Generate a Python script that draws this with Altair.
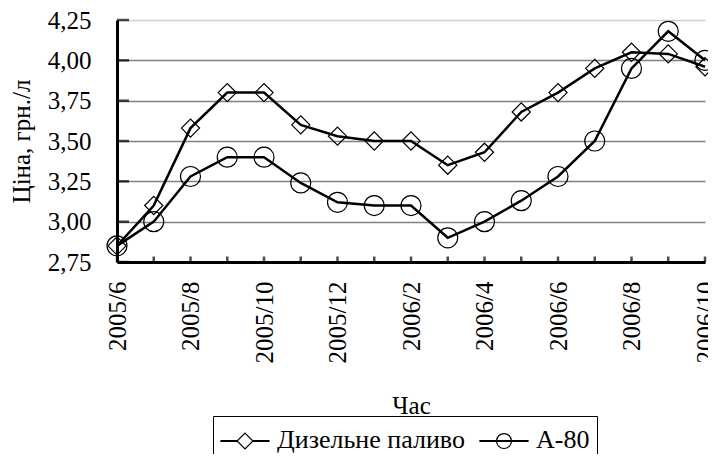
import altair as alt
import pandas as pd

months = ["2005/6", "2005/7", "2005/8", "2005/9", "2005/10", "2005/11", "2005/12",
          "2006/1", "2006/2", "2006/3", "2006/4", "2006/5", "2006/6", "2006/7",
          "2006/8", "2006/9", "2006/10"]
diesel = [2.85, 3.10, 3.58, 3.80, 3.80, 3.60, 3.53, 3.50, 3.50, 3.35, 3.43, 3.68,
          3.80, 3.95, 4.05, 4.04, 3.96]
a80 = [2.85, 3.00, 3.28, 3.40, 3.40, 3.24, 3.12, 3.10, 3.10, 2.90, 3.00, 3.13,
       3.28, 3.50, 3.95, 4.18, 4.00]
series_names = ["Дизельне паливо", "А-80"]
y_ticks = [2.75, 3.00, 3.25, 3.50, 3.75, 4.00, 4.25]
x_labels = ["2005/6", "2005/8", "2005/10", "2005/12", "2006/2", "2006/4",
            "2006/6", "2006/8", "2006/10"]

FONT = "Liberation Serif"
FS = 25
W, H = 588, 242
PL = 109

rows = []
for m, d, a in zip(months, diesel, a80):
    rows.append({"month": m, "series": series_names[0], "leg": series_names[0], "value": d})
    rows.append({"month": m, "series": series_names[1], "leg": series_names[1], "value": a})
df = pd.DataFrame(rows)
df_months = pd.DataFrame({"month": months})
df_yt = pd.DataFrame({"value": y_ticks})

label_arr = "[" + ",".join("'" + s + "'" for s in x_labels) + "]"

xscale = alt.Scale(type="point", padding=0, domain=months)
yscale = alt.Scale(domain=[2.75, 4.25], nice=False, zero=False)

x_enc = alt.X("month:O", sort=months, scale=xscale,
              axis=alt.Axis(title="Час", labelAngle=270, labelAlign="right",
                            labelBaseline="middle", labelPadding=19,
                            labelExpr="indexof(" + label_arr + ", datum.value) >= 0 ? datum.value : ''",
                            labelFont=FONT, labelFontSize=FS, labelColor="black",
                            ticks=False, tickSize=0, domainColor="black", domainWidth=3,
                            grid=False, titleFont=FONT, titleFontSize=FS,
                            titleFontWeight="normal", titleColor="black",
                            titleX=W / 2, titleY=151, titleAlign="center",
                            titleBaseline="alphabetic", labelOverlap=False))
y_enc = alt.Y("value:Q", scale=yscale,
              axis=alt.Axis(title="Ціна, грн./л", values=y_ticks,
                            labelExpr="replace(format(datum.value, '.2f'), '.', ',')",
                            labelFont=FONT, labelFontSize=FS, labelColor="black",
                            labelPadding=26, ticks=False, tickSize=0,
                            domainColor="black", domainWidth=3,
                            grid=True, gridWidth=1.5,
                            gridColor={"condition": {"test": "datum.value == 4.25", "value": "#d0d0d0"},
                                       "value": "#808080"},
                            titleFont=FONT, titleFontSize=FS, titleFontWeight="normal",
                            titleColor="black", titleAngle=270, titleX=-(8 + PL) + 29, titleY=H / 2,
                            titleAlign="center", titleBaseline="alphabetic"))

lines = alt.Chart(df).mark_line(color="black", strokeWidth=2.5, interpolate="linear").encode(
    x=x_enc, y=y_enc, detail="series:N")

points = alt.Chart(df).mark_point(filled=False, color="black", strokeWidth=1.2, opacity=1).encode(
    x=x_enc, y=y_enc,
    shape=alt.Shape("series:N", scale=alt.Scale(domain=series_names, range=["diamond", "circle"]), legend=None),
    size=alt.Size("series:N", scale=alt.Scale(domain=series_names, range=[330, 400]), legend=None))

dy = -0.29
def yy(v):
    return f"{v + dy:.3f}"

path_d = (f"M-1,{yy(-0.02)}H-0.33V{yy(0.02)}H-1Z M0.33,{yy(-0.02)}H1V{yy(0.02)}H0.33Z "
          f"M0,{yy(-0.33)}L0.33,{yy(0)}L0,{yy(0.33)}L-0.33,{yy(0)}Z")
path_c = (f"M-1,{yy(-0.02)}H1V{yy(0.02)}H-1Z "
          f"M0.31,{yy(0)}A0.31,0.31,0,1,1,-0.31,{yy(0)}A0.31,0.31,0,1,1,0.31,{yy(0)}Z")

legend_layer = alt.Chart(df).mark_point(filled=False, color="black").encode(
    x=x_enc, y=y_enc,
    opacity=alt.value(0),
    shape=alt.Shape("leg:N", scale=alt.Scale(domain=series_names, range=[path_d, path_c]),
                    legend=alt.Legend(title=None, orient="none", legendX=213 - 8 - PL, legendY=396,
                                      direction="horizontal", strokeColor="black",
                                      fillColor="white", padding=7, symbolSize=2304,
                                      symbolStrokeWidth=1.2, symbolStrokeColor="black",
                                      symbolFillColor="white", symbolOpacity=1,
                                      labelFont=FONT, labelFontSize=26, labelColor="black",
                                      labelBaseline="alphabetic",
                                      labelOffset=7, columnPadding=12, labelLimit=500)))

yticks = alt.Chart(df_yt).mark_tick(color="black", thickness=2.5, size=12).encode(
    y=alt.Y("value:Q", scale=yscale), x=alt.value(6))
xticks = alt.Chart(df_months).mark_tick(color="black", thickness=2.5, size=11).encode(
    x=alt.X("month:O", sort=months, scale=xscale), y=alt.value(H - 5.5))

chart = alt.layer(lines, points, legend_layer, yticks, xticks).resolve_scale(
    shape="independent", size="independent"
).properties(
    width=W, height=H, autosize="none",
    padding={"left": PL, "top": 12, "right": 700 - PL - W, "bottom": 192},
    background="white"
).configure_view(stroke=None)

chart.save("out.html", embed_options={"renderer": "svg", "actions": False})
